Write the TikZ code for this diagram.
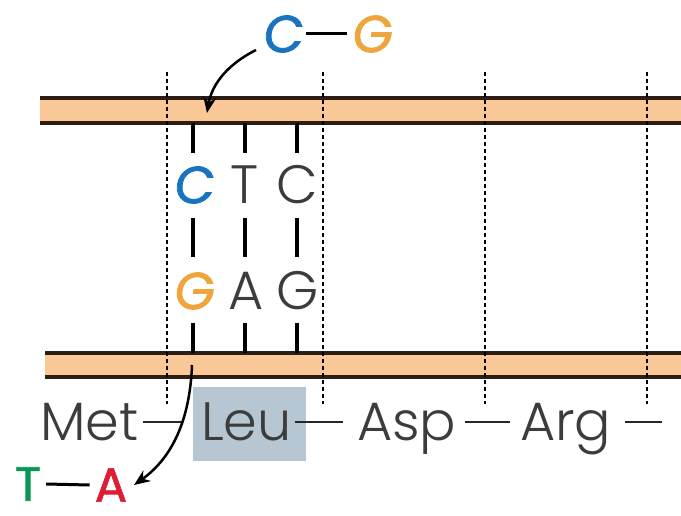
\documentclass[tikz,border=0pt]{standalone}
\usepackage{fontspec}
\IfFontExistsTF{Poppins Light}{\setmainfont{Poppins Light}}{\setmainfont{Poppins}}
\newfontfamily\basefont[FakeBold=1.5,FakeSlant=0.12]{Poppins}
\newfontfamily\uprightbase[FakeBold=1.5]{Poppins}
\usetikzlibrary{arrows.meta}
\definecolor{strandfill}{RGB}{250,200,150}
\definecolor{strandedge}{RGB}{45,30,20}
\definecolor{txt}{RGB}{60,60,60}
\definecolor{cblue}{RGB}{25,115,190}
\definecolor{gorange}{RGB}{238,165,60}
\definecolor{tgreen}{RGB}{10,150,85}
\definecolor{ared}{RGB}{220,30,50}
\definecolor{leubox}{RGB}{182,198,210}
\tikzset{
  strandline/.style={draw=strandedge, line width=3.5pt},
  codonline/.style={draw=black, line width=1.6pt, dash pattern=on 4pt off 3pt},
  pairline/.style={draw=black, line width=4.5pt},
  big/.style={inner sep=0pt, font=\fontsize{54}{60}\selectfont, text=txt},
  baseletter/.style={inner sep=0pt, font=\fontsize{52}{60}\selectfont\basefont},
  uprightletter/.style={inner sep=0pt, font=\fontsize{48}{56}\selectfont\uprightbase},
  bond/.style={draw=black, line width=3pt},
  pep/.style={draw=black!85, line width=2.5pt},
  mutarrow/.style={draw=black, line width=2.5pt, -{Stealth[length=16pt,width=13pt]}}
}
\begin{document}
\begin{tikzpicture}[x=1pt,y=-1pt]
\useasboundingbox (0,0) rectangle (681,516);
% Leu highlight
\fill[leubox] (193,387) rectangle (306,461);
% two strands
\fill[strandfill] (40,98) rectangle (681,123);
\draw[strandline] (40,98) -- (681,98);
\draw[strandline] (40,123) -- (681,123);
\fill[strandfill] (45,353) rectangle (681,377);
\draw[strandline] (45,353) -- (681,353);
\draw[strandline] (45,377) -- (681,377);
% codon borders
\foreach \x in {167,323,485,647}
  \draw[codonline] (\x,72) -- (\x,404);
% base pair bonds
\foreach \x in {193,245,297} {
  \draw[pairline] (\x,123) -- (\x,153);
  \draw[pairline] (\x,218) -- (\x,257);
  \draw[pairline] (\x,323) -- (\x,353);
}
% bases
\node[baseletter, text=cblue] (c1) at (193,185) {C};
\node[big] (t1) at (245,185) {T};
\node[big] (c2) at (297,185) {C};
\node[baseletter, text=gorange] (g1) at (193,291) {G};
\node[big] (a1) at (246,291) {A};
\node[big] (g2) at (298,291) {G};
% incoming C-G pair
\node[baseletter, text=cblue] (cn) at (282,34) {C};
\node[baseletter, text=gorange] (gn) at (371,34) {G};
\draw[bond] ([xshift=4pt]cn.east) -- ([xshift=-4pt]gn.west);
% outgoing T-A pair
\node[uprightletter, text=tgreen] (tn) at (28,484) {T};
\node[uprightletter, text=ared] (an) at (111,485) {A};
\draw[bond] ([xshift=5pt]tn.east) -- ([xshift=-5pt]an.west);
% peptide
\node[big, anchor=base west] (met) at (40,440) {Met};
\node[big, anchor=base west] (leu) at (201,440) {Leu};
\node[big, anchor=base west] (asp) at (357,440) {Asp};
\node[big, anchor=base west] (arg) at (520,440) {Arg};
\draw[pep] ([xshift=4pt]met.east |- 0,422) -- ([xshift=-18pt]leu.west |- 0,422);
\draw[pep] ([xshift=3pt]leu.east |- 0,422) -- ([xshift=-14pt]asp.west |- 0,422);
\draw[pep] ([xshift=8pt]asp.east |- 0,422) -- ([xshift=-10pt]arg.west |- 0,422);
\draw[pep] (625,422) -- (662,422);
% arrows
\coordinate (inS) at (256,50);
\coordinate (inE) at (207,113);
\coordinate (outS) at (192,365);
\coordinate (outE) at (134,485);
\draw[mutarrow] (inS) .. controls (228,64) and (212,84) .. (inE);
\draw[mutarrow] (outS) .. controls (190,420) and (172,458) .. (outE);
\end{tikzpicture}
\end{document}
